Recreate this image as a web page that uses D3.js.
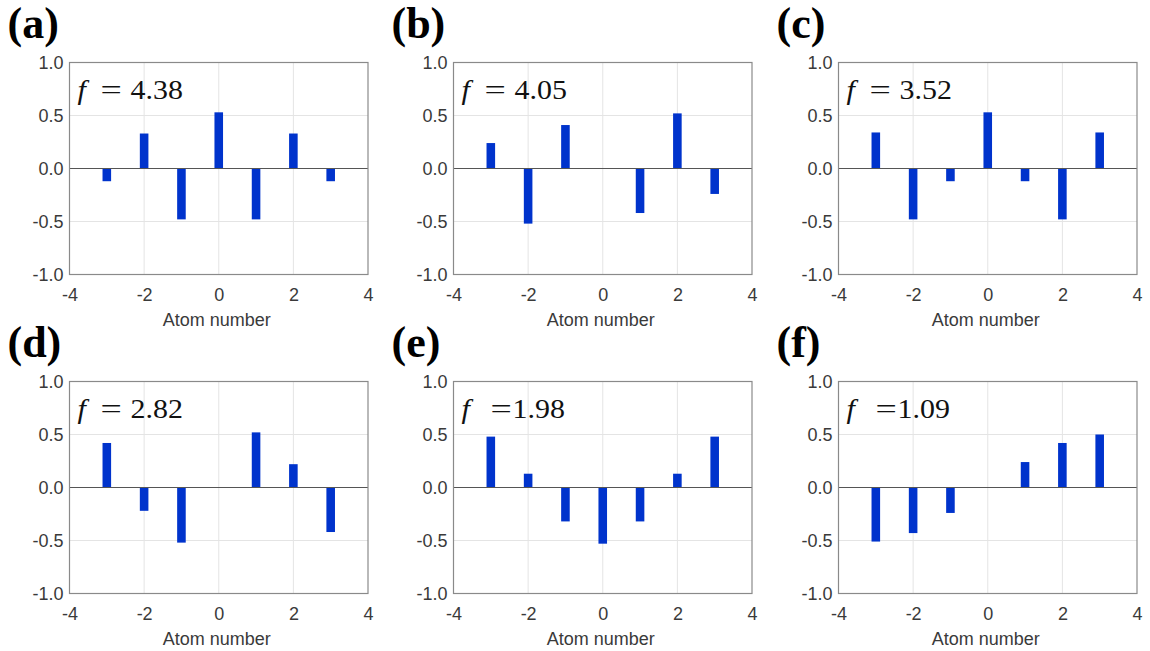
<!DOCTYPE html>
<html>
<head>
<meta charset="utf-8">
<script src="https://cdn.jsdelivr.net/npm/d3@7"></script>
<style>
  html, body { margin: 0; padding: 0; background: #fff; }
  svg { display: block; }
</style>
</head>
<body>
<svg id="chart" width="1150" height="651"></svg>
<script>
// ---- data ----
const atoms = [-3, -2, -1, 0, 1, 2, 3];
const panelLabels = ["(a)", "(b)", "(c)", "(d)", "(e)", "(f)"];
const freqLabels = ["4.38", "4.05", "3.52", "2.82", "1.98", "1.09"];
const freqSpaced = [true, true, true, true, false, false];
const valuesA = [-0.12, 0.33, -0.48, 0.53, -0.48, 0.33, -0.12];
const valuesB = [0.24, -0.52, 0.41, 0.0, -0.42, 0.52, -0.24];
const valuesC = [0.34, -0.48, -0.12, 0.53, -0.12, -0.48, 0.34];
const valuesD = [0.42, -0.22, -0.52, 0.0, 0.52, 0.22, -0.42];
const valuesE = [0.48, 0.13, -0.32, -0.53, -0.32, 0.13, 0.48];
const valuesF = [-0.51, -0.43, -0.24, 0.0, 0.24, 0.42, 0.50];
const xTicks = [-4, -2, 0, 2, 4];
const yTicks = [-1.0, -0.5, 0.0, 0.5, 1.0];
const xDomain = [-4, 4];
const yDomain = [-1, 1];
const barWidthUnits = 0.23;
const xTitle = "Atom number";

const allValues = [valuesA, valuesB, valuesC, valuesD, valuesE, valuesF];

// ---- layout ----
const colLeft = [69.5, 453.5, 838.5];
const rowTop = [62.5, 381.5];
const W = 298.5, H = 212;

const svg = d3.select("#chart");
const fmtY = d => d3.format(".1f")(d).replace("\u2212", "-");
const fmtX = d => String(d);

function stretched(sel, xPos, sx) {
  return sel.attr("x", xPos)
    .attr("transform", `translate(${xPos},0) scale(${sx},1) translate(${-xPos},0)`);
}

allValues.forEach((vals, i) => {
  const left = colLeft[i % 3], top = rowTop[Math.floor(i / 3)];
  const g = svg.append("g").attr("transform", `translate(${left},${top})`);
  const x = d3.scaleLinear().domain(xDomain).range([0, W]);
  const y = d3.scaleLinear().domain(yDomain).range([H, 0]);

  // grid
  g.append("g").selectAll("line").data(xTicks.slice(1, -1)).join("line")
    .attr("x1", d => x(d)).attr("x2", d => x(d)).attr("y1", 0).attr("y2", H)
    .attr("stroke", "#e4e4e4").attr("stroke-width", 1);
  g.append("g").selectAll("line").data(yTicks.filter(d => d !== 0 && Math.abs(d) !== 1)).join("line")
    .attr("x1", 0).attr("x2", W).attr("y1", d => y(d)).attr("y2", d => y(d))
    .attr("stroke", "#e4e4e4").attr("stroke-width", 1);

  // bars
  g.append("g").selectAll("rect").data(atoms.map((a, k) => ({a, v: vals[k]})).filter(d => d.v !== 0)).join("rect")
    .attr("x", d => x(d.a - barWidthUnits / 2))
    .attr("width", d => x(d.a + barWidthUnits / 2) - x(d.a - barWidthUnits / 2))
    .attr("y", d => y(Math.max(0, d.v)))
    .attr("height", d => Math.abs(y(d.v) - y(0)))
    .attr("fill", "#0033cc");

  // zero line
  g.append("line").attr("x1", 0).attr("x2", W).attr("y1", y(0)).attr("y2", y(0))
    .attr("stroke", "#555").attr("stroke-width", 1.2);

  // frame
  g.append("rect").attr("x", 0).attr("y", 0).attr("width", W).attr("height", H)
    .attr("fill", "none").attr("stroke", "#8a8a8a").attr("stroke-width", 1.2);

  // axes (labels only)
  const xa = g.append("g").attr("transform", `translate(0,${H})`)
    .call(d3.axisBottom(x).tickValues(xTicks).tickSize(0).tickPadding(14).tickFormat(fmtX));
  const ya = g.append("g")
    .call(d3.axisLeft(y).tickValues(yTicks).tickSize(0).tickPadding(6).tickFormat(fmtY));
  [xa, ya].forEach(a => {
    a.select(".domain").remove();
    a.selectAll("text").attr("font-family", "Arial, 'Liberation Sans', sans-serif")
      .attr("font-size", 18).attr("fill", "#3a3a3a");
  });
  ya.selectAll("text").attr("dy", "0.36em");
  xa.selectAll("text").attr("dy", "0.71em");

  // x title
  g.append("text").attr("x", W / 2 - 2).attr("y", H + 51)
    .attr("text-anchor", "middle")
    .attr("font-family", "Arial, 'Liberation Sans', sans-serif")
    .attr("font-size", 18).attr("fill", "#3a3a3a").text(xTitle);

  // f label
  const sp = freqSpaced[i];
  const ft = g.append("g").attr("transform", "translate(0,36)")
    .attr("font-family", "'Liberation Serif', 'Times New Roman', serif")
    .attr("font-size", 28).attr("fill", "#111");
  stretched(ft.append("text").attr("font-style", "italic").text("f"), 8, 1.08);
  stretched(ft.append("text").text("="), sp ? 31 : 37, 1.35);
  stretched(ft.append("text").text(freqLabels[i]), sp ? 61 : 59, 1.07);

  // panel label
  svg.append("text").attr("x", left - 62).attr("y", top - 25)
    .attr("font-family", "'Liberation Serif', 'Times New Roman', serif")
    .attr("font-weight", "bold").attr("font-size", 44).attr("fill", "#000")
    .text(panelLabels[i]);
});
</script>
</body>
</html>
